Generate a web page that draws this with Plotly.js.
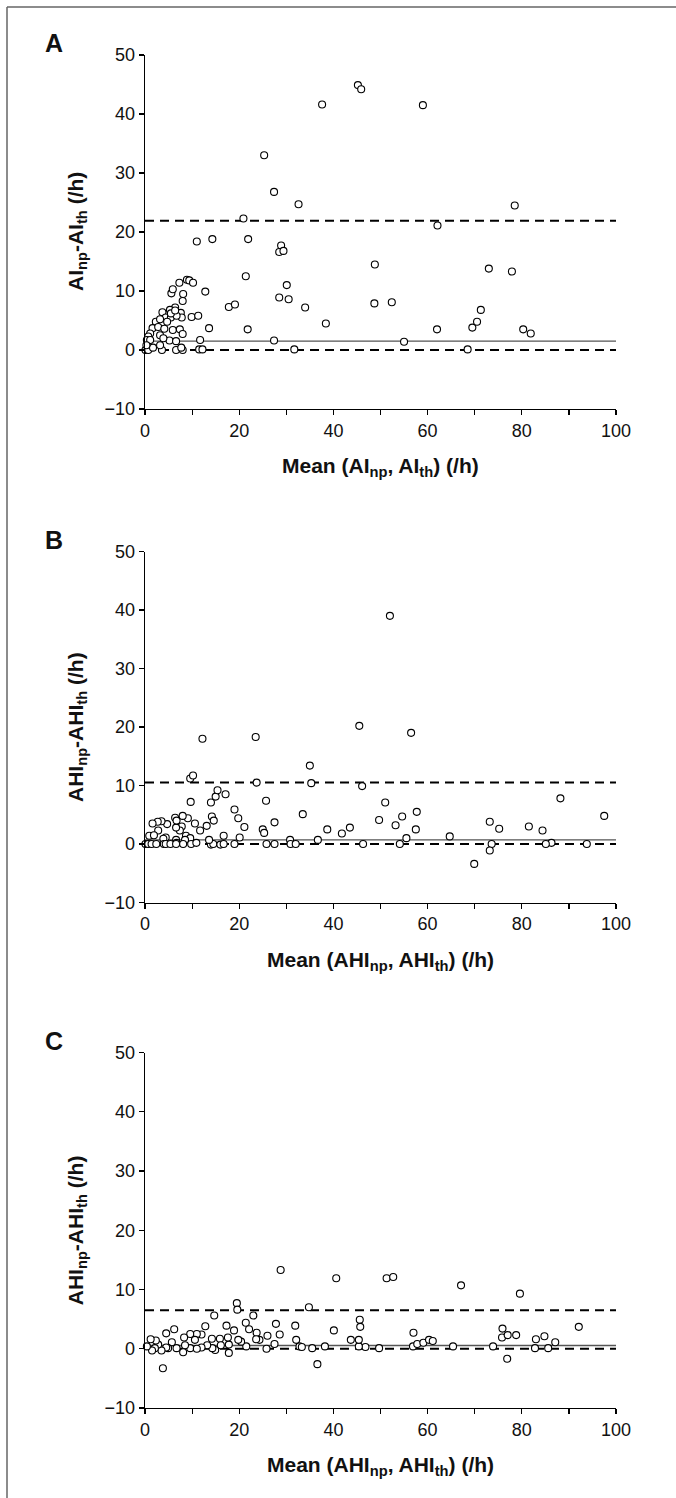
<!DOCTYPE html>
<html>
<head>
<meta charset="utf-8">
<script src="https://cdn.plot.ly/plotly-3.0.1.min.js"></script>
<style>html,body{margin:0;padding:0;background:#fff;}#chart{width:676px;height:1498px;}</style>
</head>
<body>
<div id="chart"></div>
<script>
// ---------------- DATA ----------------
const xTickVals = [0, 20, 40, 60, 80, 100];
const yTickVals = [-10, 0, 10, 20, 30, 40, 50];
const panelLetters = ["A", "B", "C"];

// Panel A : AInp - AIth vs mean
const aX = [37.6,59.0,45.2,45.9,25.3,27.4,32.6,78.5,20.9,62.1,11.0,14.3,21.9,28.9,28.5,29.4,48.8,21.4,73.0,77.9,
  30.1,12.8,5.6,5.9,7.3,8.9,9.4,10.2,8.1,28.5,30.5,48.7,52.4,17.8,19.1,34.0,38.4,13.6,21.8,27.4,
  31.7,11.7,11.5,12.2,9.9,11.3,8.0,6.4,5.3,7.6,7.8,3.7,4.4,5.5,6.7,2.3,3.2,4.7,1.6,2.8,
  4.1,5.9,7.4,8.0,1.1,0.7,3.2,5.2,3.9,6.6,0.4,1.1,0.1,0.7,1.7,3.6,6.6,8.0,7.7,0.3,
  3.2,55.0,62.0,68.5,69.5,70.5,71.3,80.3,81.9,5.5,6.4];
const aY = [41.6,41.5,44.9,44.2,33.0,26.8,24.7,24.5,22.3,21.1,18.4,18.8,18.8,17.7,16.6,16.8,14.5,12.5,13.8,13.3,
  11.0,9.9,9.6,10.3,11.4,11.9,11.8,11.4,9.5,8.9,8.6,7.9,8.1,7.3,7.7,7.2,4.5,3.7,3.5,1.6,
  0.1,1.7,0.1,0.1,5.6,5.8,8.3,7.2,6.8,6.3,5.5,6.4,5.5,5.5,5.8,4.8,5.2,4.8,3.7,3.9,
  3.6,3.4,3.5,2.7,2.8,2.3,2.5,1.6,2.0,1.5,1.7,1.7,0,0,0.4,0,0,0,0.4,0.8,
  0.8,1.4,3.5,0.1,3.8,4.8,6.8,3.5,2.8,6.2,6.7];
const aMean = 1.5, aUpper = 21.9, aLower = 0;

// Panel B : AHInp - AHIth vs mean
const bX = [52.0,45.5,56.5,23.5,12.2,35.0,35.3,9.6,10.2,23.7,46.1,9.7,14.0,15.0,15.4,17.1,25.7,51.0,88.2,
  19.0,19.8,21.1,14.2,14.6,33.5,27.5,25.0,25.3,49.7,54.6,53.2,57.7,57.5,38.7,43.5,41.8,
  73.2,75.2,81.5,84.4,97.5,64.7,55.5,36.7,30.8,86.3,85.1,93.8,73.6,73.2,69.9,54.1,46.3,30.9,32.0,25.8,27.5,
  19.0,20.1,16.7,14.0,14.5,16.0,16.7,13.6,11.7,13.1,10.6,9.1,8.0,6.4,4.7,3.5,2.7,1.6,7.8,7.4,6.6,6.7,
  2.8,0.9,1.9,8.7,9.6,8.5,4.4,3.9,6.6,6.7,0.1,0.7,1.4,2.4,4.0,4.4,5.4,6.6,8.1,9.8,10.9];
const bY = [39.0,20.2,19.0,18.3,18.0,13.4,10.4,11.2,11.7,10.5,9.9,7.2,7.1,8.1,9.2,8.5,7.4,7.1,7.8,
  5.9,4.4,2.9,4.7,4.0,5.1,3.7,2.5,1.9,4.1,4.7,3.2,5.5,2.5,2.5,2.8,1.8,
  3.8,2.6,3.0,2.3,4.8,1.3,1.0,0.7,0.7,0.2,0,0,0,-1.1,-3.4,0,0,0,0,0,0,
  0,1.1,1.4,-0.1,0,-0.1,0,0.7,2.3,3.1,3.5,4.4,4.8,4.5,3.4,3.9,3.8,3.5,3.0,2.3,2.8,4.0,
  2.3,1.4,1.5,1.4,1.0,0.7,1.1,0.9,0.7,0.2,0,0,0,0,0,0,0,0,0,0,0.2];
const bMean = 0.7, bUpper = 10.5, bLower = 0;

// Panel C : AHInp - AHIth vs mean
const cX = [28.8,40.6,51.3,52.7,67.1,79.6,19.5,19.6,34.8,14.7,23.0,21.4,17.3,12.8,22.1,27.8,31.9,45.6,45.7,40.1,18.9,6.2,4.5,
  23.7,26.0,28.6,57.0,75.9,75.8,77.0,78.8,92.1,83.0,84.8,87.1,82.8,85.6,76.9,73.9,65.4,56.9,57.8,59.1,60.3,61.1,49.7,46.8,45.4,45.4,43.7,
  38.2,36.6,35.5,32.8,33.3,32.1,27.5,25.8,21.5,20.4,19.8,24.3,23.6,17.8,17.8,17.6,15.9,16.1,14.9,14.3,14.2,13.2,12.0,12.0,11.0,10.6,9.6,9.6,11.0,
  8.3,8.5,8.1,6.7,5.7,4.9,4.5,3.5,3.8,2.8,2.3,1.2,2.1,1.5,0.4];
const cY = [13.3,11.9,11.9,12.1,10.7,9.3,7.7,6.6,7.0,5.6,5.6,4.4,3.9,3.8,3.3,4.2,3.9,4.9,3.7,3.1,3.1,3.3,2.6,
  2.7,2.2,2.4,2.7,3.4,1.9,2.3,2.3,3.7,1.6,2.1,1.1,0.1,0.1,-1.7,0.4,0.4,0.4,0.8,1.0,1.5,1.3,0.1,0.3,0.4,1.5,1.5,
  0.4,-2.6,0.1,0.4,0.3,1.5,0.8,0,0.4,1.2,1.5,1.5,1.6,-0.7,0.7,1.9,1.7,0.6,-0.2,0.1,1.7,0.6,2.4,0.2,2.5,1.5,2.5,0.1,0,
  1.9,0.6,-0.6,0.1,1.1,0.1,0.2,-0.3,-3.3,0.7,1.4,1.6,0.1,-0.3,0.4];
const cMean = 0.55, cUpper = 6.5, cLower = 0;

const yTitles = ["AI<sub>np</sub>-AI<sub>th</sub> (/h)", "AHI<sub>np</sub>-AHI<sub>th</sub> (/h)", "AHI<sub>np</sub>-AHI<sub>th</sub> (/h)"];
const xTitles = ["Mean (AI<sub>np</sub>, AI<sub>th</sub>) (/h)", "Mean (AHI<sub>np</sub>, AHI<sub>th</sub>) (/h)", "Mean (AHI<sub>np</sub>, AHI<sub>th</sub>) (/h)"];

// ---------------- LAYOUT (pixel geometry) ----------------
const W = 676, H = 1498;
const FONT = "'Liberation Sans Narrow', 'Arial Narrow', 'Liberation Sans', Arial, sans-serif";
const plotLeft = 145, plotRight = 616;
const panelsPx = [ {top: 55, bottom: 409}, {top: 551.5, bottom: 902.5}, {top: 1052.5, bottom: 1408} ];
const px2x = p => p / W, px2y = p => 1 - p / H;

const series = [
  {x: aX, y: aY, mean: aMean, up: aUpper, lo: aLower},
  {x: bX, y: bY, mean: bMean, up: bUpper, lo: bLower},
  {x: cX, y: cY, mean: cMean, up: cUpper, lo: cLower}
];

const traces = [];
const layout = {
  width: W, height: H, margin: {l: 0, r: 0, t: 0, b: 0},
  paper_bgcolor: '#fff', plot_bgcolor: 'rgba(0,0,0,0)',
  showlegend: false, font: {family: FONT, color: '#111', size: 18},
  annotations: [], shapes: []
};

series.forEach((s, i) => {
  const n = i === 0 ? '' : String(i + 1);
  const xa = 'x' + n, ya = 'y' + n;
  const p = panelsPx[i];
  traces.push({x: [0, 100], y: [s.mean, s.mean], xaxis: xa, yaxis: ya, mode: 'lines',
    line: {color: '#555', width: 1.3}, hoverinfo: 'skip', cliponaxis: false});
  traces.push({x: [0, 100], y: [s.up, s.up], xaxis: xa, yaxis: ya, mode: 'lines',
    line: {color: '#000', width: 2, dash: '9px,6px'}, hoverinfo: 'skip', cliponaxis: false});
  traces.push({x: [0, 100], y: [s.lo, s.lo], xaxis: xa, yaxis: ya, mode: 'lines',
    line: {color: '#000', width: 2, dash: '9px,6px'}, hoverinfo: 'skip', cliponaxis: false});
  traces.push({x: s.x, y: s.y, xaxis: xa, yaxis: ya, mode: 'markers', cliponaxis: false,
    marker: {symbol: 'circle', size: 7, color: '#fff', line: {color: '#000', width: 1.1}}});

  layout['xaxis' + n] = {
    domain: [px2x(plotLeft), px2x(plotRight)], anchor: ya, range: [0, 100],
    tickvals: xTickVals, ticks: 'outside', ticklen: 5, tickwidth: 1.2, tickcolor: '#000',
    minor: {dtick: 10, tick0: 0, ticks: 'outside', ticklen: 5, tickwidth: 1.2, tickcolor: '#000'},
    showline: true, linecolor: '#000', linewidth: 1.3, showgrid: false, zeroline: false,
    tickfont: {family: FONT, size: 18, color: '#111'}, fixedrange: true
  };
  layout['yaxis' + n] = {
    domain: [px2y(p.bottom), px2y(p.top)], anchor: xa, range: [-10, 50],
    tickvals: yTickVals, ticks: 'outside', ticklen: 5, tickwidth: 1.2, tickcolor: '#000',
    showline: true, linecolor: '#000', linewidth: 1.3, showgrid: false, zeroline: false,
    tickfont: {family: FONT, size: 18, color: '#111'}, fixedrange: true
  };
  // panel letter
  layout.annotations.push({text: '<b>' + panelLetters[i] + '</b>', xref: 'paper', yref: 'paper',
    x: px2x(54), y: px2y(p.top - 12), showarrow: false, xanchor: 'center', yanchor: 'middle',
    font: {family: FONT, size: 25, color: '#111'}});
  // y title
  layout.annotations.push({text: '<b>' + yTitles[i] + '</b>', xref: 'paper', yref: 'paper',
    x: px2x(77), y: px2y((p.top + p.bottom) / 2), showarrow: false, textangle: -90,
    xanchor: 'center', yanchor: 'middle', font: {family: FONT, size: 21, color: '#111'}});
  // x title
  layout.annotations.push({text: '<b>' + xTitles[i] + '</b>', xref: 'paper', yref: 'paper',
    x: px2x((plotLeft + plotRight) / 2), y: px2y(p.bottom + 58), showarrow: false,
    xanchor: 'center', yanchor: 'middle', font: {family: FONT, size: 21, color: '#111'}});
});

// outer frame (top and left edges)
layout.shapes.push({type: 'line', xref: 'paper', yref: 'paper', x0: px2x(7), x1: 1, y0: px2y(7), y1: px2y(7),
  line: {color: '#666', width: 1.5}});
layout.shapes.push({type: 'line', xref: 'paper', yref: 'paper', x0: px2x(7), x1: px2x(7), y0: px2y(7), y1: 0,
  line: {color: '#666', width: 1.5}});

Plotly.newPlot('chart', traces, layout, {staticPlot: true, displayModeBar: false});
</script>
</body>
</html>
